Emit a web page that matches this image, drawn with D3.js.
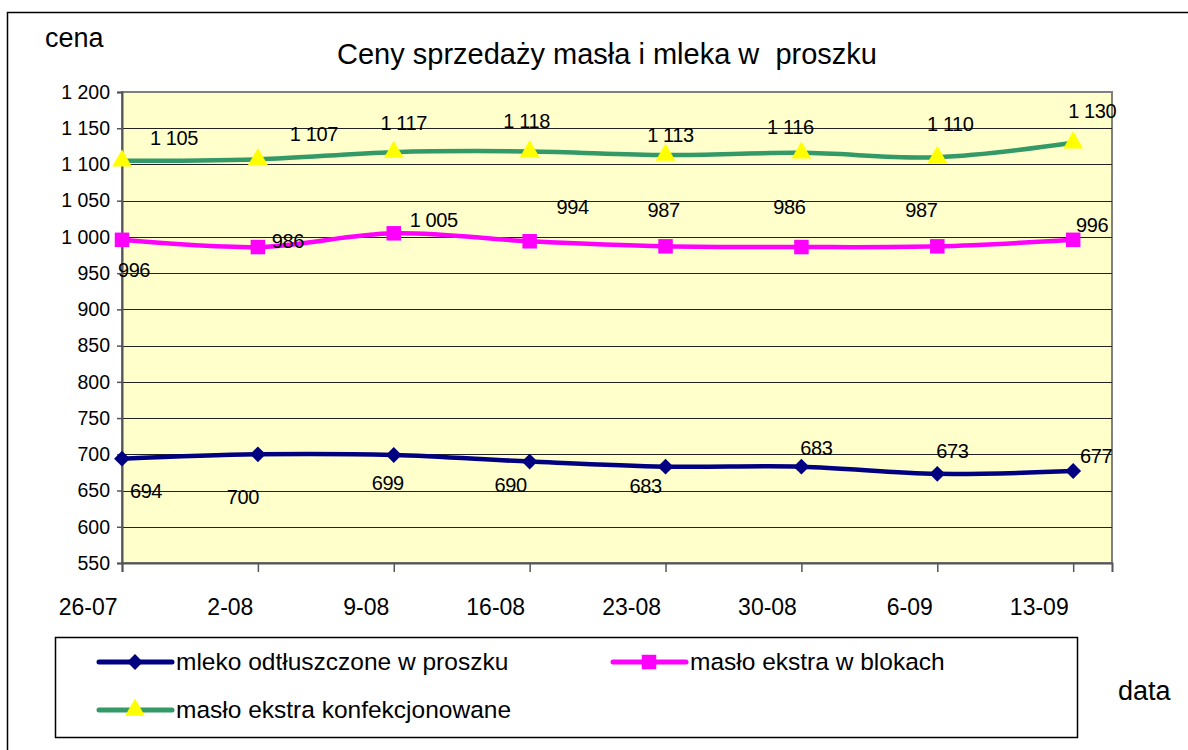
<!DOCTYPE html>
<html>
<head>
<meta charset="utf-8">
<script src="https://cdn.jsdelivr.net/npm/d3@7"></script>
<style>
  body { margin: 0; background: #fff; }
  svg { display: block; font-family: "Liberation Sans", Arial, sans-serif; }
</style>
</head>
<body>
<svg id="chart"></svg>
<script>
const width = 1188;
const height = 750;
const svg = d3.select('#chart').attr('width', width).attr('height', height);

// data
const dates = ['26-07', '2-08', '9-08', '16-08', '23-08', '30-08', '6-09', '13-09'];
const mleko = [694, 700, 699, 690, 683, 683, 673, 677];
const masloBloki = [996, 986, 1005, 994, 987, 986, 987, 996];
const masloKonf = [1105, 1107, 1117, 1118, 1113, 1116, 1110, 1130];
const yTicks = [550, 600, 650, 700, 750, 800, 850, 900, 950, 1000, 1050, 1100, 1150, 1200];
const seriesNames = ['mleko odtłuszczone w proszku', 'masło ekstra w blokach', 'masło ekstra konfekcjonowane'];

// label offsets (px, from the point) as placed in the original
const labelOffMleko = [[24,39],[-15,50],[-6,35],[-19,30],[-20,26],[15,-12],[15,-16],[23,-8]];
const labelOffBloki = [[12,37],[30,1],[40,-6],[43,-27],[-2,-29],[-12,-33],[-16,-29],[19,-8]];
const labelOffKonf = [[52,-16],[56,-18],[10,-22],[-3,-23],[5,-13],[-11,-19],[13,-26],[19,-25]];

const parse = d3.timeParse('%d-%m');
const dateVals = dates.map(parse);
const xEnd = d3.timeDay.offset(dateVals[dateVals.length - 1], 2);

const margin = { left: 122, top: 92, right: 1112, bottom: 563 };

const x = d3.scaleTime()
  .domain([dateVals[0], xEnd])
  .range([margin.left, margin.right]);
const y = d3.scaleLinear()
  .domain([550, 1200])
  .range([margin.bottom, margin.top]);

const fmt = v => d3.format(',')(v).replace(/,/g, ' ');

// outer frame
svg.append('rect')
  .attr('x', 7.5).attr('y', 12.5)
  .attr('width', width).attr('height', height)
  .attr('fill', 'none').attr('stroke', '#000').attr('stroke-width', 1.5);

// plot area
svg.append('rect')
  .attr('x', margin.left).attr('y', margin.top)
  .attr('width', margin.right - margin.left).attr('height', margin.bottom - margin.top)
  .attr('fill', '#FFFFCC').attr('stroke', '#808080').attr('stroke-width', 2);

// gridlines
svg.append('g')
  .selectAll('line')
  .data(yTicks.filter(d => d > 550 && d < 1200))
  .enter()
  .append('line')
  .attr('x1', margin.left).attr('x2', margin.right)
  .attr('y1', d => Math.round(y(d)) + 0.5).attr('y2', d => Math.round(y(d)) + 0.5)
  .attr('stroke', '#222').attr('stroke-width', 1);

// y axis
const yAxis = d3.axisLeft(y)
  .tickValues(yTicks)
  .tickSize(5)
  .tickPadding(7)
  .tickFormat(fmt);
const yG = svg.append('g')
  .attr('transform', `translate(${margin.left},0)`)
  .call(yAxis);
yG.select('.domain').attr('stroke', '#555').attr('stroke-width', 2);
yG.selectAll('.tick line').attr('stroke', '#555').attr('stroke-width', 1.5);
yG.selectAll('.tick text')
  .style('font-size', '19.5px')
  .attr('fill', '#000');

// x axis
const xAxis = d3.axisBottom(x)
  .tickValues(dateVals)
  .tickSize(9)
  .tickFormat((d, i) => dates[i]);
const xG = svg.append('g')
  .attr('transform', `translate(0,${margin.bottom})`)
  .call(xAxis);
xG.select('.domain').attr('stroke', '#555').attr('stroke-width', 2);
xG.selectAll('.tick line').attr('stroke', '#555').attr('stroke-width', 1.5);
xG.selectAll('.tick text')
  .attr('text-anchor', 'end')
  .attr('x', -5)
  .attr('y', 52)
  .attr('dy', null)
  .style('font-size', '23px')
  .attr('fill', '#000');

// titles
svg.append('text')
  .attr('x', 607).attr('y', 64)
  .attr('text-anchor', 'middle')
  .style('font-size', '29px')
  .style('white-space', 'pre')
  .text('Ceny sprzedaży masła i mleka w  proszku');
svg.append('text')
  .attr('x', 45).attr('y', 47)
  .style('font-size', '27px')
  .text('cena');
svg.append('text')
  .attr('x', 1118).attr('y', 700)
  .style('font-size', '27px')
  .text('data');

const line = d3.line()
  .x((d, i) => x(dateVals[i]))
  .y(d => y(d))
  .curve(d3.curveCardinal);

const diamond = d3.symbol().type(d3.symbolDiamond2).size(160);
const square = d3.symbol().type(d3.symbolSquare).size(210);
const triangle = d3.symbol().type(d3.symbolTriangle).size(170);

const series = [
  { name: seriesNames[0], values: mleko, color: '#000080', mark: diamond, mfill: '#000080', offs: labelOffMleko },
  { name: seriesNames[1], values: masloBloki, color: '#FF00FF', mark: square, mfill: '#FF00FF', offs: labelOffBloki },
  { name: seriesNames[2], values: masloKonf, color: '#339966', mark: triangle, mfill: '#FFFF00', offs: labelOffKonf }
];

series.forEach(s => {
  svg.append('path')
    .datum(s.values)
    .attr('d', line)
    .attr('fill', 'none')
    .attr('stroke', s.color)
    .attr('stroke-width', 4.5)
    .attr('stroke-linejoin', 'round');

  svg.append('g')
    .selectAll('path')
    .data(s.values)
    .enter()
    .append('path')
    .attr('d', s.mark)
    .attr('transform', (d, i) => `translate(${x(dateVals[i])},${y(d)})`)
    .attr('fill', s.mfill);
});

series.forEach(s => {
  svg.append('g')
    .selectAll('text')
    .data(s.values)
    .enter()
    .append('text')
    .attr('x', (d, i) => x(dateVals[i]) + s.offs[i][0])
    .attr('y', (d, i) => y(d) + s.offs[i][1])
    .attr('text-anchor', 'middle')
    .style('font-size', '20px')
    .style('letter-spacing', '-0.4px')
    .text(d => fmt(d));
});

// legend
const lg = svg.append('g');
lg.append('rect')
  .attr('x', 55.5).attr('y', 637.5)
  .attr('width', 1022).attr('height', 100)
  .attr('fill', '#fff').attr('stroke', '#000').attr('stroke-width', 1.5);

const legendPos = [[99, 662], [613, 662], [99, 710]];
series.forEach((s, i) => {
  const [lx, ly] = legendPos[i];
  lg.append('line')
    .attr('x1', lx).attr('x2', lx + 73)
    .attr('y1', ly).attr('y2', ly)
    .attr('stroke', s.color).attr('stroke-width', 5)
    .attr('stroke-linecap', 'round');
  lg.append('path')
    .attr('d', s.mark)
    .attr('transform', `translate(${lx + 36},${ly})`)
    .attr('fill', s.mfill);
  lg.append('text')
    .attr('x', lx + 77).attr('y', ly + 8)
    .style('font-size', '24.5px')
    .text(s.name);
});
</script>
</body>
</html>
